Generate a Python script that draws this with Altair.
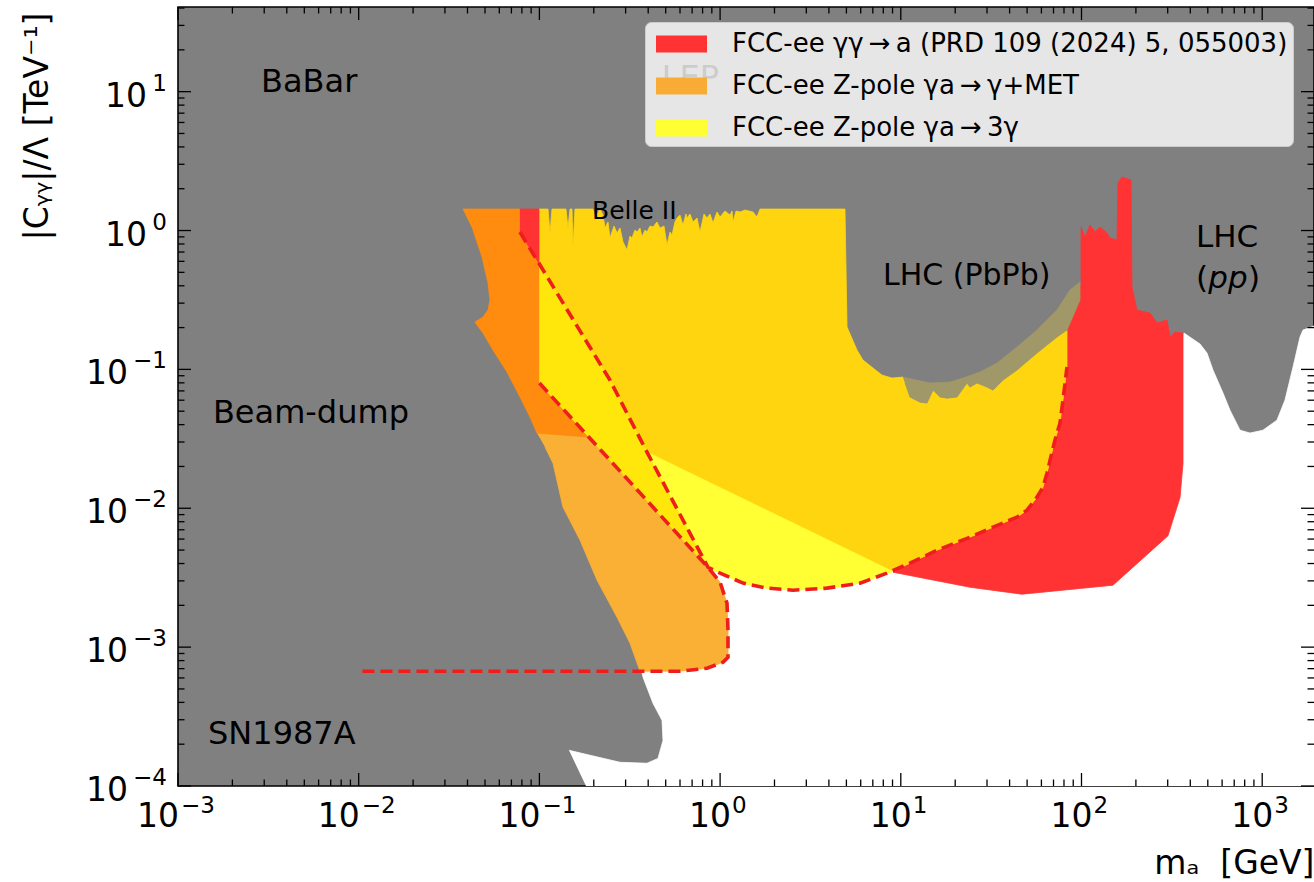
import altair as alt
import pandas as pd

W, H = 1136, 779
X_DOMAIN = [0.001, 1935]
Y_DOMAIN = [1e-4, 40.7]

# ---------------- axis tick values / labels ----------------
x_neg_values = [1e-3, 1e-2, 1e-1]
x_neg_exps = ['−3', '−2', '−1']
x_pos_values = [1, 10, 100, 1000]
x_pos_exps = ['0', '1', '2', '3']
y_neg_values = [1e-4, 1e-3, 1e-2, 1e-1]
y_neg_exps = ['−4', '−3', '−2', '−1']
y_pos_values = [1, 10]
y_pos_exps = ['0', '1']
tick_base = '10'

legend_labels = ['FCC-ee γγ\u2009→\u2009a (PRD 109 (2024) 5, 055003)',
                 'FCC-ee Z-pole γa\u2009→\u2009γ+MET',
                 'FCC-ee Z-pole γa\u2009→\u20093γ']
legend_colors = ['#FF3333', '#F9AC35', '#FFFF33']

# ---------------- regions (m_a [GeV], |C|/Lambda [1/TeV]) ----------------
white_region = [(0.1811, 1e-4), (2000, 1e-4), (2000, 0.2085), (1682, 0.1919), (1619, 0.1709),
                (1481, 0.1039), (1337, 0.0601), (1207, 0.0431), (1010, 0.0365), (856, 0.0348),
                (754, 0.0365), (663, 0.0509), (607, 0.0675), (534, 0.0989), (495, 0.1311),
                (453, 0.1522), (369, 0.1827), (342, 0.1522), (83.1, 0.0431), (9.9, 0.0262),
                (1.0, 0.0262), (0.3603, 0.000766), (0.3745, 0.000607), (0.4253, 0.000394),
                (0.477, 0.000297), (0.4831, 0.000213), (0.4532, 0.000158), (0.394, 0.0001458),
                (0.2793, 0.0001482), (0.1905, 0.0001665), (0.1458, 0.0001808)]

met_light = [(0.09698, 0.03477), (0.1881, 0.03253), (0.857, 0.00376), (1.0, 0.002935),
             (1.092, 0.002072), (1.106, 0.001323), (1.106, 0.000846), (1.038, 0.000778),
             (0.846, 0.000705), (0.5998, 0.000671), (0.3603, 0.000671), (0.3172, 0.001067),
             (0.2688, 0.001642), (0.2084, 0.003034), (0.1678, 0.005892), (0.1351, 0.01018),
             (0.1189, 0.02113), (0.1074, 0.02756)]

met_dark = [(0.03763, 1.428), (0.078, 1.428), (0.078, 0.975), (0.1, 0.5736), (0.1, 0.0797),
            (0.1881, 0.03253), (0.09698, 0.03477), (0.08872, 0.04532), (0.0781, 0.0632),
            (0.06617, 0.0956), (0.05535, 0.1377), (0.04875, 0.1827), (0.04515, 0.2085),
            (0.04401, 0.2192), (0.04875, 0.2381), (0.05195, 0.2674), (0.05328, 0.3157),
            (0.05195, 0.4184), (0.04814, 0.6443), (0.0429, 1.008)]

red_small = [(0.078, 1.428), (0.1, 1.428), (0.1, 0.5736), (0.078, 0.975)]

red_main = [(83.13, 0.1919), (83.13, 0.1039), (79.0, 0.0601), (76.0, 0.041), (71.33, 0.03095),
            (68.66, 0.02535), (64.43, 0.0179), (61.22, 0.01419), (56.71, 0.01202),
            (49.93, 0.00969), (43.97, 0.00863), (32.37, 0.00731), (24.15, 0.00619),
            (15.86, 0.00499), (11.24, 0.00402), (9.054, 0.003464), (24.15, 0.0027),
            (46.87, 0.002405), (149.4, 0.002793), (301, 0.006332), (351, 0.01196),
            (364.6, 0.02113), (364.6, 0.1827), (329.2, 0.1856), (309, 0.1709), (297.4, 0.2268),
            (261.7, 0.2157), (239.4, 0.2544), (202.8, 0.2674), (190.3, 0.3916), (187.9, 2.311),
            (167.5, 2.429), (159.2, 2.199), (157.2, 0.855), (143.8, 0.8831), (138.4, 0.9594),
            (126.6, 1.060), (118.8, 0.9754), (111.4, 1.095), (104.6, 0.8979), (99.4, 1.060),
            (99.4, 0.4256)]

gold_region = [(0.1, 1.428), (0.1116, 1.428), (0.1145, 0.9594), (0.1174, 1.428), (0.1403, 1.428),
               (0.1439, 1.042), (0.1477, 1.428), (0.1515, 1.428), (0.1535, 0.7605), (0.1574, 1.428),
               (0.198, 1.428), (0.2031, 1.230), (0.2164, 1.428), (0.2249, 1.293), (0.2307, 1.042),
               (0.2396, 1.152), (0.2458, 0.8831), (0.2587, 1.077), (0.2688, 0.9594), (0.2793, 1.042),
               (0.2902, 0.8263), (0.3054, 0.7236), (0.3172, 0.9129), (0.3254, 0.8831),
               (0.3381, 1.008), (0.3468, 0.9754), (0.3603, 1.042), (0.3696, 0.8979), (0.384, 1.008),
               (0.394, 0.9754), (0.4093, 1.077), (0.4253, 1.060), (0.4474, 1.152), (0.4649, 1.042),
               (0.4892, 1.077), (0.5083, 0.7862), (0.5281, 0.9754), (0.5418, 0.9282),
               (0.5627, 1.152), (0.5773, 1.230), (0.5998, 1.293), (0.6232, 1.095), (0.6476, 1.315),
               (0.6558, 1.230), (0.6813, 1.315), (0.7079, 1.152), (0.7451, 1.230), (0.7742, 0.9754),
               (0.8146, 1.315), (0.8462, 1.230), (0.8794, 1.315), (0.9136, 1.132), (0.9612, 1.359),
               (1.0, 1.251), (1.064, 1.382), (1.135, 1.293), (1.164, 1.382), (1.179, 1.152),
               (1.225, 1.382), (1.289, 1.359), (1.374, 1.405), (1.521, 1.359), (1.600, 1.251),
               (1.663, 1.428), (4.91, 1.428), (5.04, 0.2017), (5.723, 0.1377), (6.176, 0.1167),
               (7.018, 0.1022), (7.87, 0.0910), (8.941, 0.0866), (10.28, 0.0880), (10.55, 0.0797),
               (11.24, 0.0632), (12.77, 0.0581), (13.96, 0.0572), (15.08, 0.0709), (16.48, 0.0632),
               (18.02, 0.0621), (20.46, 0.0632), (23.25, 0.0797), (24.15, 0.0746), (26.41, 0.0797),
               (29.99, 0.0746), (32.37, 0.0709), (36.78, 0.0837), (43.97, 0.0989), (56.71, 0.1311),
               (73.17, 0.1709), (83.13, 0.1919), (83.13, 0.1039), (79.0, 0.0601), (76.0, 0.0410),
               (71.33, 0.03095), (68.66, 0.02535), (64.43, 0.0179), (61.22, 0.01419),
               (56.71, 0.01202), (49.93, 0.00969), (43.97, 0.00863), (32.37, 0.00731),
               (24.15, 0.00619), (15.86, 0.00499), (11.24, 0.00402), (8.386, 0.00341),
               (5.946, 0.00289), (3.905, 0.00266), (2.532, 0.00257), (1.817, 0.00266),
               (1.339, 0.00289), (1.0, 0.00341), (0.857, 0.00376), (0.1, 0.0797)]

band_region = [(0.1, 0.5736), (0.2458, 0.0837), (0.394, 0.02535), (0.857, 0.00376), (0.1, 0.0797)]

pale_region = [(0.394, 0.02535), (9.054, 0.0035), (8.386, 0.00341), (5.946, 0.00289),
               (3.905, 0.00266), (2.532, 0.00257), (1.817, 0.00266), (1.339, 0.00289),
               (1.0, 0.00341), (0.857, 0.00376)]

pbpb_band = [(10.28, 0.088), (10.82, 0.0866), (14.51, 0.0797), (18.72, 0.081), (22.09, 0.0866),
             (27.44, 0.0956), (34.07, 0.111), (43.97, 0.1448), (56.71, 0.1919), (73.17, 0.2674),
             (86.37, 0.3726), (98.1, 0.4256), (98.1, 0.3157), (83.13, 0.1919), (73.17, 0.1709),
             (56.71, 0.1311), (43.97, 0.0989), (36.78, 0.0837), (32.37, 0.0709), (29.99, 0.0746),
             (26.41, 0.0797), (24.15, 0.0746), (23.25, 0.0797), (20.46, 0.0632), (18.02, 0.0621),
             (16.48, 0.0632), (15.08, 0.0709), (13.96, 0.0572), (12.77, 0.0581), (11.24, 0.0632),
             (10.55, 0.0797)]

dash_3gamma = [(0.078, 0.975), (0.2458, 0.0837), (0.394, 0.02535), (0.857, 0.00376), (1.0, 0.00341),
               (1.339, 0.00289), (1.817, 0.00266), (2.532, 0.00257), (3.905, 0.00266),
               (5.946, 0.00289), (8.386, 0.00341), (11.24, 0.00402), (15.86, 0.00499),
               (24.15, 0.00619), (32.37, 0.00731), (43.97, 0.00863), (49.93, 0.00969),
               (56.71, 0.01202), (61.22, 0.01419), (64.43, 0.0179), (68.66, 0.02535),
               (71.33, 0.03095), (76.0, 0.041), (79.0, 0.0601), (83.13, 0.1039)]

dash_met = [(0.1, 0.0797), (0.857, 0.00376), (1.0, 0.002935), (1.092, 0.002072), (1.106, 0.001323),
            (1.106, 0.000846), (1.038, 0.000778), (0.846, 0.000705), (0.5998, 0.000671),
            (0.01, 0.000671)]

# region labels
big_label_text = ['BaBar', 'Beam-dump', 'SN1987A', 'LEP']
big_label_m = [0.00288, 0.00156, 0.001466, 0.475]
big_label_c = [9.95, 0.0410, 0.0001998, 10.58]

FONT = 'DejaVu Sans'

x_axis = alt.Axis(values=x_neg_values + x_pos_values, labels=False, ticks=False, domain=False,
                  grid=False, title='mₐ\u00a0 [GeV]', titleFont=FONT, titleFontSize=33,
                  titleFontWeight='normal', titleColor='black', titleAnchor='end',
                  titleAlign='right', titleX=W, titleY=87, titleBaseline='alphabetic')
y_axis = alt.Axis(values=y_neg_values + y_pos_values, labels=False, ticks=False, domain=False,
                  grid=False, title='|Cᵧᵧ|/Λ [TeV⁻¹]', titleFont=FONT, titleFontSize=33,
                  titleFontWeight='normal', titleColor='black', titleAngle=270,
                  titleAlign='right', titleBaseline='middle', titleX=-141, titleY=5)

xs = alt.Scale(type='log', domain=X_DOMAIN, nice=False)
ys = alt.Scale(type='log', domain=Y_DOMAIN, nice=False)
xenc = alt.X('m:Q', scale=xs, axis=x_axis)
yenc = alt.Y('c:Q', scale=ys, axis=y_axis)


def frame(pts):
    df = pd.DataFrame(pts, columns=['m', 'c'])
    df['i'] = range(len(df))
    return df


def polygon(pts, color):
    return alt.Chart(frame(pts)).mark_line(
        fill=color, stroke=color, strokeWidth=0.8, clip=True, interpolate='linear'
    ).encode(x=xenc, y=yenc, order='i:Q')


def dashed(pts):
    return alt.Chart(frame(pts)).mark_line(
        color='#EE1E1C', strokeWidth=3.6, strokeDash=[12, 6], clip=True
    ).encode(x=xenc, y=yenc, order='i:Q')


layers = [
    polygon(white_region, '#FFFFFF'),
    polygon(met_light, '#FAAF35'),
    polygon(met_dark, '#FF8C0E'),
    polygon(red_main, '#FF3333'),
    polygon(red_small, '#FF3333'),
    polygon(gold_region, '#FFD50F'),
    polygon(band_region, '#FFE70C'),
    polygon(pale_region, '#FFFF33'),
    polygon(pbpb_band, '#A09868'),
    dashed(dash_met),
    dashed(dash_3gamma),
]

# region text labels
big_df = pd.DataFrame({'m': big_label_m, 'c': big_label_c, 't': big_label_text})
layers.append(alt.Chart(big_df).mark_text(font=FONT, fontSize=32, align='left', baseline='alphabetic',
                                          color='black').encode(x=xenc, y=yenc, text='t:N'))
layers.append(alt.Chart(pd.DataFrame({'m': [0.1955], 'c': [1.21], 't': ['Belle II']})).mark_text(
    font=FONT, fontSize=25, align='left', baseline='alphabetic', color='black'
).encode(x=xenc, y=yenc, text='t:N'))
layers.append(alt.Chart(pd.DataFrame({'m': [7.97], 'c': [0.405], 't': ['LHC (PbPb)']})).mark_text(
    font=FONT, fontSize=30, align='left', baseline='alphabetic', color='black'
).encode(x=xenc, y=yenc, text='t:N'))
layers.append(alt.Chart(pd.DataFrame({'m': [638.7], 'c': [0.7605], 't': ['LHC']})).mark_text(
    font=FONT, fontSize=31, align='center', baseline='alphabetic', color='black'
).encode(x=xenc, y=yenc, text='t:N'))
pp_df = pd.DataFrame({'m': [646.9], 'c': [0.3853], 't': ['pp']})
layers.append(alt.Chart(pp_df).mark_text(font=FONT, fontSize=31, fontStyle='italic', align='center',
                                         baseline='alphabetic', color='black')
              .encode(x=xenc, y=yenc, text='t:N'))
layers.append(alt.Chart(pp_df).mark_text(font=FONT, fontSize=31, align='right', dx=-20,
                                         baseline='alphabetic', color='black')
              .encode(x=xenc, y=yenc, text=alt.value('(')))
layers.append(alt.Chart(pp_df).mark_text(font=FONT, fontSize=31, align='left', dx=20,
                                         baseline='alphabetic', color='black')
              .encode(x=xenc, y=yenc, text=alt.value(')')))

# tick labels (10 with raised exponent), placed by the scales
def xlab(values, exps, base_dx, exp_dx):
    df = pd.DataFrame({'m': values, 'e': exps})
    base = alt.Chart(df).mark_text(font=FONT, fontSize=33, align='right', baseline='alphabetic',
                                   color='black', dx=base_dx).encode(
        x=xenc, y=alt.value(H + 41), text=alt.value(tick_base))
    exp = alt.Chart(df).mark_text(font=FONT, fontSize=23, align='left', baseline='alphabetic',
                                  color='black', dx=exp_dx).encode(
        x=xenc, y=alt.value(H + 27), text='e:N')
    return [base, exp]


def ylab(values, exps, base_x):
    df = pd.DataFrame({'c': values, 'e': exps})
    base = alt.Chart(df).mark_text(font=FONT, fontSize=33, align='right', baseline='alphabetic',
                                   color='black', dy=15).encode(
        y=yenc, x=alt.value(base_x), text=alt.value(tick_base))
    exp = alt.Chart(df).mark_text(font=FONT, fontSize=23, align='right', baseline='alphabetic',
                                  color='black', dy=-1).encode(
        y=yenc, x=alt.value(-11), text='e:N')
    return [base, exp]


layers += xlab(x_neg_values, x_neg_exps, 1, 3) + xlab(x_pos_values, x_pos_exps, 11, 12)
layers += ylab(y_neg_values, y_neg_exps, -50) + ylab(y_pos_values, y_pos_exps, -31)

# legend (entries come from a clipped, off-domain helper layer)
leg_df = pd.DataFrame({'m': [1e-6] * 3, 'c': [1.0] * 3, 'series': legend_labels})
layers.append(alt.Chart(leg_df).mark_point(filled=True, clip=True).encode(
    x=xenc, y=yenc,
    fill=alt.Fill('series:N', title=None,
                  scale=alt.Scale(domain=legend_labels, range=legend_colors),
                  sort=legend_labels,
                  legend=alt.Legend(orient='none', legendX=467, legendY=15, direction='vertical',
                                    symbolType='M-1.5,-0.5L1.5,-0.5L1.5,0.5L-1.5,0.5Z',
                                    symbolSize=1156, symbolStrokeWidth=0, symbolOpacity=1,
                                    symbolOffset=14.5, labelFont=FONT, labelFontSize=26,
                                    labelColor='black', labelLimit=900, labelOffset=33.5,
                                    rowPadding=12, padding=5,
                                    fillColor='rgba(255,255,255,0.8)', strokeColor='#cccccc',
                                    cornerRadius=6))
))

# inward ticks (matplotlib style)
x_minor = [k * 10.0 ** n for n in range(-3, 4) for k in range(2, 10) if k * 10.0 ** n < X_DOMAIN[1]]
y_minor = [k * 10.0 ** n for n in range(-4, 2) for k in range(2, 10) if k * 10.0 ** n < Y_DOMAIN[1]]


def xticks(vals, length):
    df = pd.DataFrame({'m': vals})
    base = alt.Chart(df).mark_rule(color='black', strokeWidth=1.3)
    return [base.encode(x=xenc, y=alt.value(H), y2=alt.value(H - length)),
            base.encode(x=xenc, y=alt.value(0), y2=alt.value(length))]


def yticks(vals, length):
    df = pd.DataFrame({'c': vals})
    base = alt.Chart(df).mark_rule(color='black', strokeWidth=1.3)
    return [base.encode(y=yenc, x=alt.value(0), x2=alt.value(length)),
            base.encode(y=yenc, x=alt.value(W), x2=alt.value(W - length))]


layers += xticks(x_neg_values + x_pos_values, 13) + xticks(x_minor, 6.5)
layers += yticks(y_neg_values + y_pos_values, 13) + yticks(y_minor, 6.5)

chart = alt.layer(*layers).properties(
    width=W, height=H,
    padding={'left': 178, 'top': 7, 'right': 0, 'bottom': 96},
    autosize=alt.AutoSizeParams(type='none'),
    background='white'
).configure_view(fill='#808080', stroke='black', strokeWidth=1.6)

chart.save('out.html', embed_options={'renderer': 'svg', 'actions': False})
